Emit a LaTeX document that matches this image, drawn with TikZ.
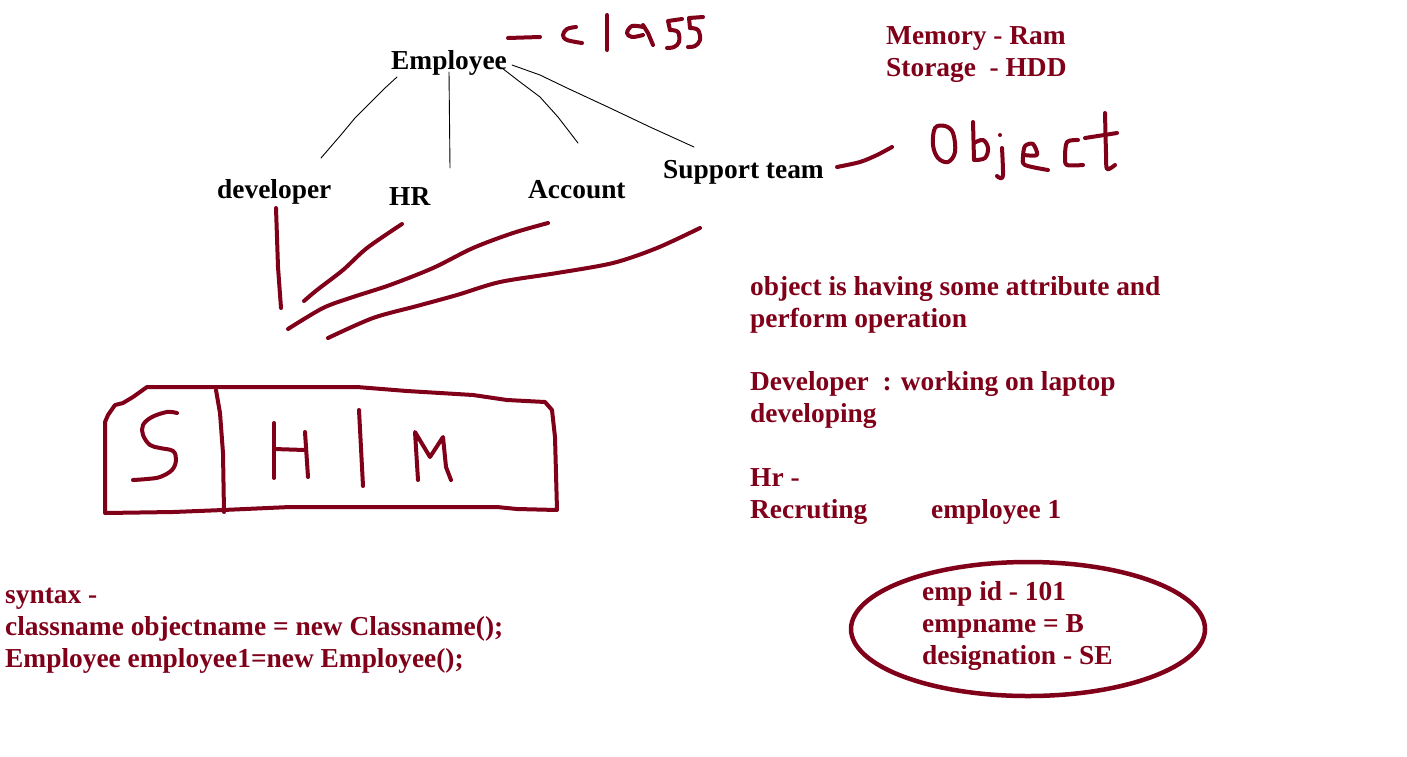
\documentclass[tikz,border=0pt]{standalone}
\usepackage{fontspec}
\setmainfont{Liberation Serif}
\definecolor{mar}{RGB}{128,0,26}
\tikzset{
  txt/.style={anchor=base west, inner sep=0pt, font=\fontsize{27.4}{32}\selectfont\bfseries},
  rtxt/.style={txt, text=mar},
  pen/.style={draw=mar, line width=4pt, line cap=round, line join=round},
  fine/.style={draw=black, line width=0.9pt, line cap=round, line join=round},
}
\begin{document}
\begin{tikzpicture}[x=1pt,y=-1pt]
\useasboundingbox[fill=white] (0,0) rectangle (1407,756);

% black hierarchy text
\node[txt] (emp) at (391,69) {Employee};
\node[txt] (dev) at (217,198) {developer};
\node[txt] (hr) at (389,205) {HR};
\node[txt] (acc) at (528,198) {Account};
\node[txt] (sup) at (663,178) {Support team};

% thin hand-drawn connectors
\draw[fine] (397,77) -- (385,88) -- (370,103) -- (355,118) -- (340,136) -- (321,158);
\draw[fine] (449,72) -- (450,168);
\draw[fine] (502,68) -- (520,82) -- (540,97) -- (558,117) -- (578,143);
\draw[fine] (512,65) -- (540,75) -- (567,88) -- (610,108) -- (650,127) -- (694,147);

% "- class" annotation
\draw[pen] (508,38) -- (540,37);
\draw[pen] plot[smooth, tension=0.6] coordinates {(576,27) (567,29) (563,35) (567,40) (582,43)};
\draw[pen] (607,15) -- (607,50);
\draw[pen] plot[smooth, tension=0.6] coordinates {(643,27) (632,26) (627,33) (632,37) (643,35)};
\draw[pen] (643,25) -- (648,33) -- (653,45);
\draw[pen] (682,19) -- (668,21) -- (670,30);
\draw[pen] plot[smooth, tension=0.6] coordinates {(670,30) (678,32) (679,42) (674,47) (667,48)};
\draw[pen] (703,17) -- (689,18) -- (690,28);
\draw[pen] plot[smooth, tension=0.6] coordinates {(690,28) (698,30) (700,40) (695,46) (688,47)};

% "- Object" annotation
\draw[pen] plot[smooth] coordinates {(837,167) (860,162) (877,155) (892,147)};
\draw[pen] plot[smooth cycle, tension=0.6] coordinates {(935,128) (933,145) (938,158) (948,162) (955,152) (953,133) (945,126)};
\draw[pen] (973,122) -- (974,160);
\draw[pen] plot[smooth, tension=0.6] coordinates {(974,143) (983,140) (988,148) (985,158) (975,160)};
\fill[mar] (1000,135) circle (2pt);
\draw[pen] plot[smooth, tension=0.5] coordinates {(1002,148) (1003,175) (1000,178) (997,176)};
\draw[pen] plot[smooth, tension=0.5] coordinates {(1024,155) (1037,155) (1033,144) (1025,146) (1023,157) (1025,165) (1048,170)};
\draw[pen] plot[smooth, tension=0.5] coordinates {(1078,140) (1067,142) (1065,157) (1067,165) (1083,165)};
\draw[pen] plot[smooth, tension=0.5] coordinates {(1105,113) (1106,153) (1107,169) (1115,165)};
\draw[pen] (1085,138) -- (1117,133);

% red strokes under the departments
\draw[pen] (276,208) -- (278,267) -- (281,308);
\draw[pen] plot[smooth] coordinates {(402,224) (367,248) (343,270) (317,290) (304,301)};
\draw[pen] plot[smooth] coordinates {(548,223) (513,233) (473,248) (433,268) (390,285) (353,297) (323,308) (288,329)};
\draw[pen] plot[smooth] coordinates {(700,228) (657,248) (613,263) (557,273) (500,282) (457,295) (417,306) (373,318) (328,338)};

% S | H | M box
\draw[pen] (105,513) -- (105,453) -- (105,422) -- (108,415) -- (115,405) -- (123,403) -- (133,397) -- (140,392) -- (147,387)
  -- (357,387) -- (407,391) -- (473,395) -- (507,400) -- (545,402) -- (552,410) -- (555,437) -- (557,510)
  -- (517,509) -- (497,507) -- (290,507) -- (223,510) -- (173,512) -- cycle;
\draw[pen] (216,390) -- (220,413) -- (223,453) -- (224,512);
\draw[pen] plot[smooth, tension=0.6] coordinates {(177,413) (167,412) (152,417) (143,425) (143,435) (150,445) (160,448) (173,451) (176,460) (172,470) (160,477) (147,479) (133,480)};
\draw[pen] (274,423) -- (274,478);
\draw[pen] (305,432) -- (308,477);
\draw[pen] (274,449) -- (305,450);
\draw[pen] (359,410) -- (363,486);
\draw[pen] (418,480) -- (415,432) -- (430,457) -- (443,437) -- (446,467) -- (451,480);

% maroon notes
\node[rtxt] (mem) at (886,44) {Memory - Ram};
\node[rtxt] (sto) at (886,76) {Storage \ - HDD};

\node[rtxt] (o1) at (750,295) {object is having some attribute and};
\node[rtxt] (o2) at (750,327) {perform operation};
\node[rtxt] (d1) at (750,390) {Developer \ : working on laptop};
\node[rtxt] (d2) at (750,422) {developing};
\node[rtxt] (h1) at (750,486) {Hr -};
\node[rtxt] (h2) at (750,518) {Recruting};
\node[rtxt] (e1) at (931,518) {employee 1};

\node[rtxt] (s1) at (5,603) {syntax -};
\node[rtxt] (s2) at (5,635) {classname objectname = new Classname();};
\node[rtxt] (s3) at (5,667) {Employee employee1=new Employee();};

% object ellipse
\draw[draw=mar, line width=4.5pt] (1028,629) ellipse [x radius=177, y radius=67];
\node[rtxt] (a1) at (922,600) {emp id - 101};
\node[rtxt] (a2) at (922,632) {empname = B};
\node[rtxt] (a3) at (922,664) {designation - SE};
\end{tikzpicture}
\end{document}
